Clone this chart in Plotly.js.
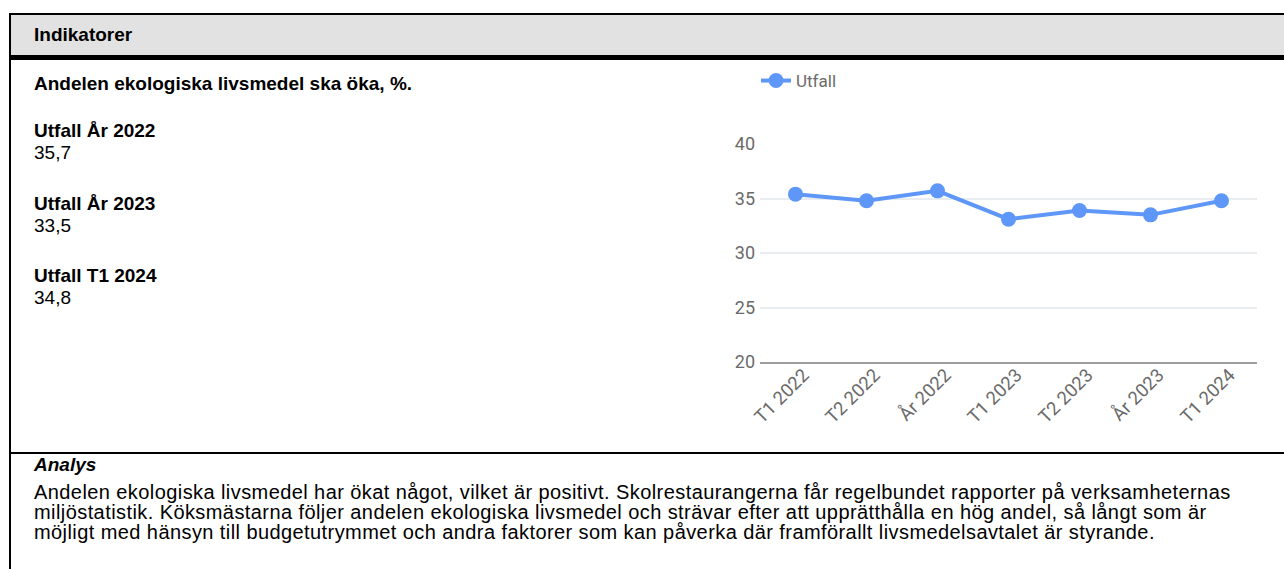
<!DOCTYPE html>
<html>
<head>
<meta charset="utf-8">
<script src="https://cdn.plot.ly/plotly-3.0.1.min.js"></script>
<style>
  html, body { margin:0; padding:0; width:1284px; height:569px; overflow:hidden; background:#fff; }
  body { position:relative; font-family:"Liberation Sans", Arial, sans-serif; color:#000; }
  .abs { position:absolute; white-space:nowrap; }
  #frameTop { position:absolute; left:9px; top:13px; width:1275px; height:2px; background:#000; }
  #frameLeft { position:absolute; left:9px; top:13px; width:2px; height:556px; background:#000; }
  #header { position:absolute; left:11px; top:15px; width:1273px; height:40px; background:#e2e2e2; }
  #headerRule { position:absolute; left:9px; top:55px; width:1275px; height:5px; background:#000; }
  #midRule { position:absolute; left:9px; top:452px; width:1275px; height:2px; background:#000; }
  .b { font-weight:bold; font-size:19px; line-height:20px; }
  .r { font-size:19px; line-height:20px; }
  #para { position:absolute; left:34px; top:482px; font-size:20px; line-height:20px; letter-spacing:0.42px; white-space:nowrap; }
  #chart { position:absolute; left:700px; top:60px; width:584px; height:392px; }
</style>
</head>
<body>
<div id="frameTop"></div>
<div id="frameLeft"></div>
<div id="header"></div>
<div id="headerRule"></div>
<div id="midRule"></div>
<div class="abs b" style="left:34px; top:25px;">Indikatorer</div>
<div class="abs b" style="left:34px; top:74px;">Andelen ekologiska livsmedel ska öka, %.</div>
<div id="summary"></div>
<div class="abs b" style="left:34px; top:455px; font-style:italic;">Analys</div>
<div id="para">Andelen ekologiska livsmedel har ökat något, vilket är positivt. Skolrestaurangerna får regelbundet rapporter på verksamheternas<br>miljöstatistik. Köksmästarna följer andelen ekologiska livsmedel och strävar efter att upprätthålla en hög andel, så långt som är<br>möjligt med hänsyn till budgetutrymmet och andra faktorer som kan påverka där framförallt livsmedelsavtalet är styrande.</div>
<div id="chart"></div>
<script>
const categories = ["T1 2022", "T2 2022", "År 2022", "T1 2023", "T2 2023", "År 2023", "T1 2024"];
const utfall = [35.4, 34.8, 35.7, 33.1, 33.9, 33.5, 34.8];
const summaryLabels = ["Utfall År 2022", "Utfall År 2023", "Utfall T1 2024"];
const summaryValues = ["35,7", "33,5", "34,8"];
const yTicks = [20, 25, 30, 35, 40];

// summary text blocks
const sum = document.getElementById('summary');
summaryLabels.forEach((lab, i) => {
  const top = 121 + i * 72.5;
  const l = document.createElement('div');
  l.className = 'abs b'; l.style.left = '34px'; l.style.top = top + 'px'; l.textContent = lab;
  const v = document.createElement('div');
  v.className = 'abs r'; v.style.left = '34px'; v.style.top = (top + 22) + 'px'; v.textContent = summaryValues[i];
  sum.appendChild(l); sum.appendChild(v);
});

const lineColor = '#5f97f8';
const trace = {
  x: categories, y: utfall, type: 'scatter', mode: 'lines+markers', name: 'Utfall',
  line: { color: lineColor, width: 4 },
  marker: { color: lineColor, size: 15 },
  cliponaxis: false
};
const layout = {
  width: 584, height: 392,
  margin: { l: 60, r: 27, t: 84, b: 90, autoexpand: false },
  paper_bgcolor: 'rgba(0,0,0,0)', plot_bgcolor: 'rgba(0,0,0,0)',
  font: { family: 'Roboto, sans-serif', size: 17, color: '#6a6a6a' },
  showlegend: true,
  legend: { orientation: 'h', x: -0.008, xanchor: 'left', y: 1.289, yanchor: 'middle', font: { size: 17, color: '#6a6a6a' } },
  xaxis: {
    type: 'category', range: [-0.5, 6.5], tickangle: -45, showgrid: false, zeroline: false, automargin: false,
    showline: true, linecolor: '#9e9e9e', linewidth: 2, ticks: '', ticklabelshift: 8, ticklabelstandoff: -7,
    tickfont: { size: 18.5, color: '#6a6a6a' }
  },
  yaxis: {
    range: [20, 40], tickvals: yTicks, showgrid: true, gridcolor: '#e9edf0', gridwidth: 2, automargin: false,
    zeroline: false, showline: false, ticks: '', ticklabelstandoff: 4, tickfont: { size: 18, color: '#6a6a6a' }
  }
};
Plotly.newPlot('chart', [trace], layout, { displayModeBar: false, staticPlot: true });
</script>
</body>
</html>
